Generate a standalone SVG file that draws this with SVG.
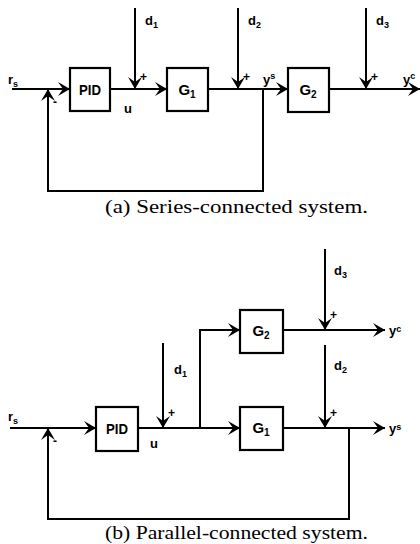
<svg xmlns="http://www.w3.org/2000/svg" width="420" height="544" viewBox="0 0 420 544">
<style>
.ln{stroke:#000;stroke-width:2;fill:none}
.bx{stroke:#000;stroke-width:2.2;fill:#fff}
.lb{font-family:"Liberation Sans",Arial,sans-serif;font-weight:bold;font-size:13px;fill:#000}
.bl{font-family:"Liberation Sans",Arial,sans-serif;font-weight:bold;font-size:15px;fill:#000}
.sg{font-family:"Liberation Sans",Arial,sans-serif;font-weight:bold;font-size:12px;fill:#000}
.cap{font-family:"Liberation Serif","Times New Roman",serif;font-size:18px;fill:#000}
</style>
<defs>
<marker id="ah" viewBox="0 0 12 14" refX="12" refY="7" markerWidth="12" markerHeight="14" orient="auto" markerUnits="userSpaceOnUse">
<path d="M0,0 L12,7 L0,14 L5,7 z" fill="#000"/>
</marker>
</defs>

<g id="connectors">
<!-- (a) series -->
<line class="ln" x1="12" y1="89" x2="70" y2="89" marker-end="url(#ah)"/>
<polyline class="ln" points="263,89 263,191 48,191 48,89" marker-end="url(#ah)"/>
<line class="ln" x1="110" y1="89" x2="167" y2="89" marker-end="url(#ah)"/>
<line class="ln" x1="135" y1="8" x2="135" y2="89" marker-end="url(#ah)"/>
<line class="ln" x1="208" y1="89" x2="288" y2="89" marker-end="url(#ah)"/>
<line class="ln" x1="238" y1="8" x2="238" y2="89" marker-end="url(#ah)"/>
<line class="ln" x1="329" y1="89" x2="420" y2="89" marker-end="url(#ah)"/>
<line class="ln" x1="366" y1="8" x2="366" y2="89" marker-end="url(#ah)"/>
<!-- (b) parallel -->
<line class="ln" x1="10" y1="428" x2="96" y2="428" marker-end="url(#ah)"/>
<polyline class="ln" points="349,428 349,519 48,519 48,428" marker-end="url(#ah)"/>
<line class="ln" x1="138" y1="428" x2="200" y2="428"/>
<line class="ln" x1="163" y1="343" x2="163" y2="428" marker-end="url(#ah)"/>
<polyline class="ln" points="200,428 200,330 240,330" marker-end="url(#ah)"/>
<line class="ln" x1="200" y1="428" x2="240" y2="428" marker-end="url(#ah)"/>
<line class="ln" x1="283" y1="330" x2="385" y2="330" marker-end="url(#ah)"/>
<line class="ln" x1="325" y1="249" x2="325" y2="330" marker-end="url(#ah)"/>
<line class="ln" x1="283" y1="428" x2="385" y2="428" marker-end="url(#ah)"/>
<line class="ln" x1="325" y1="345" x2="325" y2="428" marker-end="url(#ah)"/>
</g>

<g id="pid_a"><rect class="bx" x="70" y="68" width="40" height="43"/><text class="bl" x="90" y="95" text-anchor="middle" textLength="22" lengthAdjust="spacingAndGlyphs">PID</text></g>
<g id="g1_a"><rect class="bx" x="167" y="68" width="41" height="43"/><text class="bl" x="187" y="95" text-anchor="middle">G<tspan font-size="10" dy="3">1</tspan></text></g>
<g id="g2_a"><rect class="bx" x="288" y="68" width="41" height="44"/><text class="bl" x="308" y="95" text-anchor="middle">G<tspan font-size="10" dy="3">2</tspan></text></g>

<g id="labels_a">
<text class="lb" x="8" y="84">r<tspan font-size="9" dy="3">s</tspan></text>
<text class="lb" x="145" y="25">d<tspan font-size="9" dy="3">1</tspan></text>
<text class="lb" x="248" y="25">d<tspan font-size="9" dy="3">2</tspan></text>
<text class="lb" x="376" y="25">d<tspan font-size="9" dy="3">3</tspan></text>
<text class="lb" x="124" y="113">u</text>
<text class="lb" x="263" y="84">y<tspan font-size="9" dy="-5">s</tspan></text>
<text class="lb" x="403" y="84">y<tspan font-size="9" dy="-5">c</tspan></text>
<text class="sg" x="140" y="81">+</text>
<text class="sg" x="243" y="81">+</text>
<text class="sg" x="371" y="81">+</text>
<text class="sg" x="53" y="106">-</text>
</g>

<g id="pid_b"><rect class="bx" x="96" y="407" width="42" height="44"/><text class="bl" x="117" y="434" text-anchor="middle" textLength="22" lengthAdjust="spacingAndGlyphs">PID</text></g>
<g id="g2_b"><rect class="bx" x="240" y="310" width="43" height="43"/><text class="bl" x="261" y="336" text-anchor="middle">G<tspan font-size="10" dy="3">2</tspan></text></g>
<g id="g1_b"><rect class="bx" x="240" y="407" width="43" height="43"/><text class="bl" x="261" y="433" text-anchor="middle">G<tspan font-size="10" dy="3">1</tspan></text></g>

<g id="labels_b">
<text class="lb" x="8" y="421">r<tspan font-size="9" dy="3">s</tspan></text>
<text class="lb" x="174" y="374">d<tspan font-size="9" dy="3">1</tspan></text>
<text class="lb" x="334" y="275">d<tspan font-size="9" dy="3">3</tspan></text>
<text class="lb" x="334" y="370">d<tspan font-size="9" dy="3">2</tspan></text>
<text class="lb" x="150" y="448">u</text>
<text class="lb" x="389" y="335">y<tspan font-size="9" dy="-3">c</tspan></text>
<text class="lb" x="389" y="433">y<tspan font-size="9" dy="-3">s</tspan></text>
<text class="sg" x="168" y="417">+</text>
<text class="sg" x="330" y="319">+</text>
<text class="sg" x="330" y="417">+</text>
<text class="sg" x="53" y="445">-</text>
</g>

<text class="cap" x="105" y="213" textLength="263" lengthAdjust="spacingAndGlyphs">(a) Series-connected system.</text>
<text class="cap" x="105" y="539" textLength="263" lengthAdjust="spacingAndGlyphs">(b) Parallel-connected system.</text>
</svg>
